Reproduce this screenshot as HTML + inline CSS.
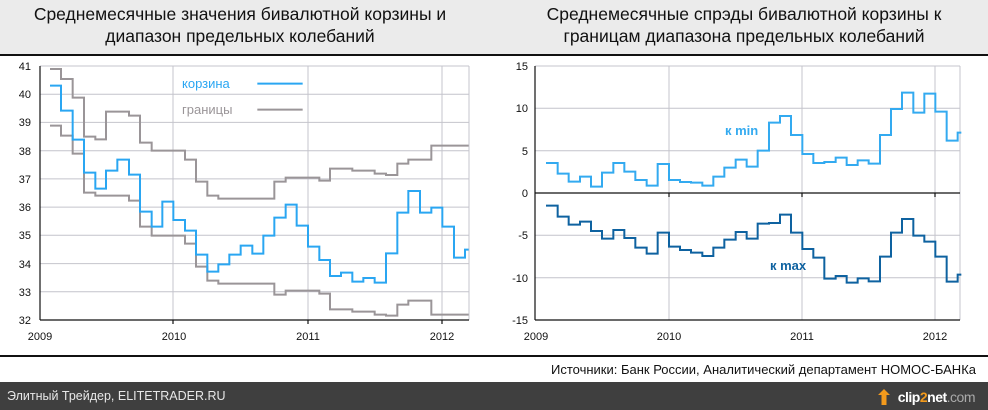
<!DOCTYPE html>
<html><head><meta charset="utf-8"><style>
body{margin:0;width:988px;height:410px;overflow:hidden;background:#fff;font-family:"Liberation Sans",sans-serif;position:relative}
.hd{position:absolute;left:0;top:0;width:988px;height:54px;background:#ebebeb;border-bottom:2px solid #111}
.t{position:absolute;top:3px;font-size:17.5px;line-height:22px;color:#111;text-align:center}
</style></head><body>
<div class="hd"></div>
<div class="t" style="left:0;width:480px">Среднемесячные значения бивалютной корзины и<br>диапазон предельных колебаний</div>
<div class="t" style="left:500px;width:488px">Среднемесячные спрэды бивалютной корзины к<br>границам диапазона предельных колебаний</div>
<svg width="988" height="410" style="position:absolute;left:0;top:0" font-family="Liberation Sans, sans-serif">
<line x1="0" y1="356" x2="988" y2="356" stroke="#111" stroke-width="2"/>
<g font-size="11" fill="#111" text-anchor="end">
<g stroke="#c4c4cc" stroke-width="1">
<line x1="40" y1="94.2" x2="469" y2="94.2"/><line x1="40" y1="122.4" x2="469" y2="122.4"/><line x1="40" y1="150.7" x2="469" y2="150.7"/><line x1="40" y1="178.9" x2="469" y2="178.9"/><line x1="40" y1="207.1" x2="469" y2="207.1"/><line x1="40" y1="235.3" x2="469" y2="235.3"/><line x1="40" y1="263.6" x2="469" y2="263.6"/><line x1="40" y1="291.8" x2="469" y2="291.8"/><line x1="40" y1="66" x2="469" y2="66"/>
<line x1="173" y1="66" x2="173" y2="320"/><line x1="308" y1="66" x2="308" y2="320"/><line x1="442" y1="66" x2="442" y2="320"/><line x1="469" y1="66" x2="469" y2="320"/>
<line x1="535" y1="66" x2="960" y2="66"/><line x1="535" y1="108.3" x2="960" y2="108.3"/><line x1="535" y1="150.7" x2="960" y2="150.7"/><line x1="535" y1="235.3" x2="960" y2="235.3"/><line x1="535" y1="277.7" x2="960" y2="277.7"/>
<line x1="669" y1="66" x2="669" y2="320"/><line x1="802" y1="66" x2="802" y2="320"/><line x1="935" y1="66" x2="935" y2="320"/><line x1="960" y1="66" x2="960" y2="320"/>
</g>
<g stroke="#111" stroke-width="1.2">
<line x1="40" y1="66" x2="40" y2="320"/><line x1="40" y1="320" x2="469" y2="320"/>
<line x1="535" y1="66" x2="535" y2="320"/><line x1="535" y1="320" x2="960" y2="320"/><line x1="535" y1="193" x2="960" y2="193"/>
<line x1="173" y1="320" x2="173" y2="324"/><line x1="308" y1="320" x2="308" y2="324"/><line x1="442" y1="320" x2="442" y2="324"/>
<line x1="669" y1="193" x2="669" y2="197"/><line x1="802" y1="193" x2="802" y2="197"/><line x1="935" y1="193" x2="935" y2="197"/>
</g>
<text x="31" y="70">41</text><text x="31" y="98">40</text><text x="31" y="126">39</text><text x="31" y="155">38</text><text x="31" y="183">37</text><text x="31" y="211">36</text><text x="31" y="239">35</text><text x="31" y="268">34</text><text x="31" y="296">33</text><text x="31" y="324">32</text>
<text x="528" y="70">15</text><text x="528" y="112">10</text><text x="528" y="155">5</text><text x="528" y="197">0</text><text x="528" y="239">-5</text><text x="528" y="282">-10</text><text x="528" y="324">-15</text>
</g>
<g font-size="11" fill="#111" text-anchor="middle">
<text x="40" y="340">2009</text><text x="174" y="340">2010</text><text x="308" y="340">2011</text><text x="442" y="340">2012</text>
<text x="536" y="340">2009</text><text x="669" y="340">2010</text><text x="802" y="340">2011</text><text x="935" y="340">2012</text>
</g>
<g transform="translate(0,50) scale(0.33333)" fill="none" stroke-width="6">
<path stroke="#9a9598" d="M150,57 H183 V87 H218 V143 H252 V260 H286 V268 H318 V185 H387 V197 H420 V278 H455 V302 H555 V329 H588 V395 H622 V437 H655 V446 H823 V395 H857 V383 H958 V392 H990 V356 H1057 V362 H1124 V371 H1158 V375 H1192 V341 H1225 V329 H1294 V287 H1406"/>
<path stroke="#9a9598" d="M150,227 H183 V257 H218 V311 H252 V428 H286 V437 H387 V452 H420 V530 H455 V557 H555 V581 H588 V650 H622 V692 H655 V701 H823 V734 H857 V722 H958 V731 H990 V778 H1057 V785 H1124 V794 H1158 V797 H1192 V764 H1225 V752 H1294 V794 H1406"/>
<path stroke="#2aa6f2" d="M150,107 H183 V182 H218 V269 H252 V368 H286 V416 H318 V362 H352 V329 H387 V374 H420 V485 H455 V530 H487 V455 H520 V510 H555 V542 H588 V614 H622 V665 H655 V643 H688 V614 H722 V587 H757 V611 H790 V557 H823 V503 H857 V464 H890 V527 H924 V590 H958 V630 H990 V678 H1023 V668 H1057 V695 H1090 V684 H1124 V698 H1158 V610 H1192 V488 H1225 V423 H1260 V488 H1294 V473 H1327 V530 H1362 V623 H1395 V599 H1406"/>
<line x1="772" y1="101" x2="908" y2="101" stroke="#2aa6f2"/>
<line x1="772" y1="179" x2="908" y2="179" stroke="#9a9598"/>
</g>
<g transform="translate(490,50) scale(0.33333)" fill="none" stroke-width="6">
<path stroke="#33aaf0" d="M168,339 H203 V371 H236 V395 H270 V380 H303 V410 H336 V368 H370 V339 H403 V365 H436 V390 H470 V407 H503 V342 H537 V390 H570 V396 H603 V398 H637 V407 H670 V380 H703 V353 H737 V329 H770 V350 H803 V302 H837 V218 H870 V198 H903 V255 H937 V312 H970 V339 H1003 V336 H1037 V323 H1070 V345 H1103 V331 H1136 V341 H1170 V255 H1203 V177 H1236 V128 H1270 V188 H1303 V131 H1336 V185 H1370 V272 H1403 V248 H1414"/>
<path stroke="#0e62a0" d="M168,467 H203 V500 H236 V524 H270 V515 H303 V543 H336 V566 H370 V540 H403 V564 H436 V593 H470 V611 H503 V548 H537 V590 H570 V600 H603 V608 H637 V618 H670 V593 H703 V569 H737 V546 H770 V566 H803 V521 H837 V519 H870 V494 H903 V548 H937 V597 H970 V623 H1003 V686 H1037 V678 H1070 V698 H1103 V685 H1136 V694 H1170 V620 H1203 V548 H1236 V507 H1270 V557 H1303 V575 H1336 V620 H1370 V695 H1403 V674 H1414"/>
</g>
<text x="182" y="88" font-size="13" fill="#2aa6f2">корзина</text>
<text x="182" y="114" font-size="13" fill="#9a9598">границы</text>
<text x="725" y="135" font-size="13" font-weight="bold" fill="#33aaf0">к min</text>
<text x="770" y="270" font-size="13" font-weight="bold" fill="#0e62a0">к max</text>
<text x="976" y="374" font-size="13" fill="#111" text-anchor="end">Источники: Банк России, Аналитический департамент НОМОС-БАНКа</text>
<rect x="0" y="382" width="988" height="28" fill="#3f3f3f"/>
<text x="7" y="400" font-size="12.5" fill="#e8e8e8">Элитный Трейдер, ELITETRADER.RU</text>
<path d="M884,389 l6,6 h-3.5 v10 h-5 v-10 h-3.5z" fill="#f39a1c"/>
<text x="975" y="402" font-size="14" font-weight="bold" fill="#fff" text-anchor="end" letter-spacing="-0.5">clip<tspan fill="#f39a1c">2</tspan>net<tspan fill="#aaa" font-weight="normal">.com</tspan></text>
</svg>
</body></html>
